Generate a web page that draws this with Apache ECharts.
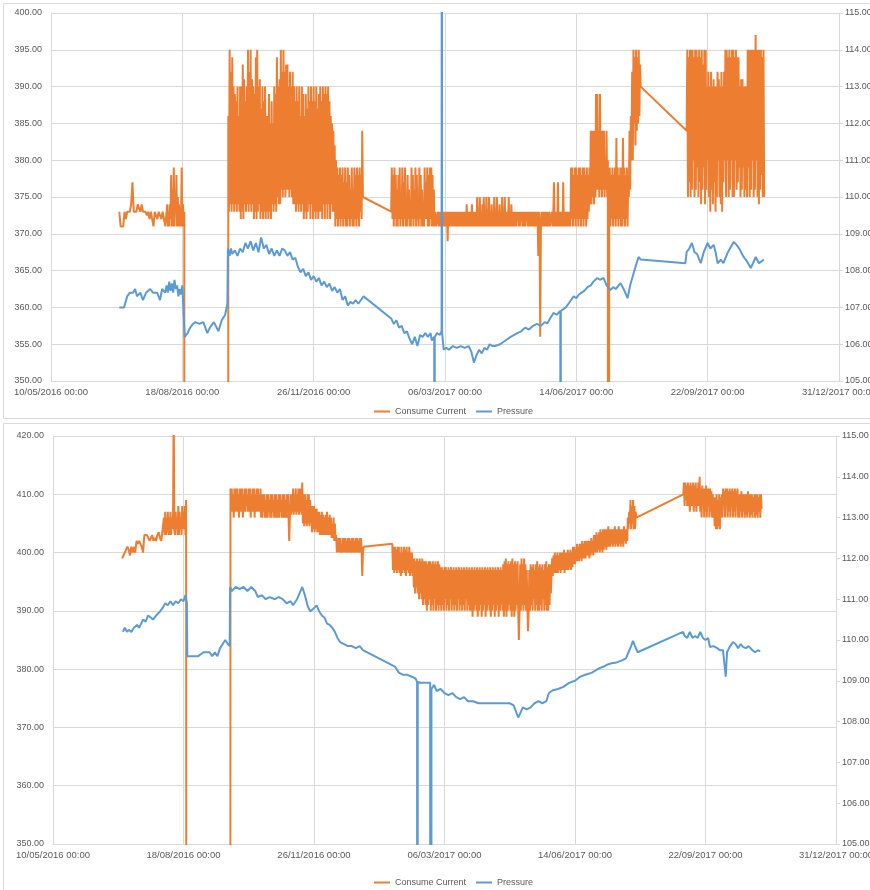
<!DOCTYPE html>
<html>
<head>
<meta charset="utf-8">
<script src="https://cdn.jsdelivr.net/npm/echarts@6/dist/echarts.min.js"></script>
<style>html,body{margin:0;padding:0;background:#fff}#c{width:870px;height:890px}</style>
</head>
<body>
<div id="c"></div>
<script>
// Days counted from 10/05/2016 00:00. Segments: [startDay, stepDays, values]
const xTickDays = [0, 100, 200, 300, 400, 500, 600];
const seriesNames = ['Consume Current', 'Pressure'];

// ---------- TOP CHART ----------
const topCurrent = [
  [52, 1, [373,371,371,371,373,372,373,373,373,374,377,373,373,373,374,374,373,374,373,373,373,372.5,373,372,373,372,371,373,373,372,373,373,372,373,372,371]],
  [88, 0.5, [371,374,371,373,371,374,372,378,371,376,371,379,371,374,373,378,371,375,371,374,371,373,371,379,371,374,371,373]],
  [101.3, 33.4, [0, 0]],
  [135, 0.5, [386,373,395,374,392,373,394,374,390,373,
              389,374,388,373,390,374,386,373,390,372,
              390,373,393,372,391,374,388,373,390,374,
              395,373,392,374,395,373,391,374,390,372,
              389,373,394,372,395,373,390,374,391,372,
              387,373,390,372,388,373,390,372,386,373,
              386,372,389,373,385,372,388,374,385,373,
              390,374,389,373,394,375,390,374,391,374,
              395,376,392,375,395,376,392,375,393,376,
              393,376,390,375,392,376,390,375,392,374,
              390,374,388,373,390,374,388,373,390,374,
              386,373,390,374,389,372,386,373,389,372,
              387,373,390,374,388,372,390,374,388,372,
              390,373,388,372,390,373,387,372,389,373,
              390,373,388,372,390,374,389,372,390,374,
              389,372,390,374,388,372,386,374,385,373,
              384,373,382,371,380,372,379,371,378,372,
              379,371,378,372,379,371,377,372,379,371,
              377,371,379,372,378,371,376,372,379,371,
              376,371,379,372,378,371,379,372,378,371,
              379,373,378,372,384,375,375]],
  [259, 0.5, [373,379,372,378,371,379,372,378,371,376,
              371,378,372,379,371,375,372,379,371,377,
              372,379,371,374,371,378,372,376,371,373,
              371,379,372,378,371,376,372,379,371,378,
              372,373,371,379,372,378,371,376,371,373,
              371,379,372,377,372,379,371,378,371,379,
              372,379,371,378,371,376,371,373,371]],
  [294, 0.5, [371,373,371,373,371,373,371,373,371,373,
              371,373,371,373,371,373,369,373,371,373,
              371,373,371,373,371,373,371,373,371,373,
              371,373,371,373,371,373,371,373,371,373,
              371,373,371,373,371,374,371,373,371,373,
              371,373,371,374,371,373,371,373,371,373,
              371,375,371,373,371,375,371,373,371,374,
              371,375,371,373,371,375,371,373,371,375,
              371,373,371,374,371,373,371,375,371,373,
              371,375,371,373,371,374,371,373,371,375,
              371,373,371,375,371,373,371,373,371,375,
              371,373,371,374,371,373,371,373,371,373,
              371,373,372,373,371,373,371,373,372,373,
              371,373,371,373,371,373,372,373,371,373,
              371,373,371,373,371,373,371,373,371,373,
              371,373,371,373,367,373,371,356,371,373,
              371,373,371,373,371,373,371,373,371,373,
              371,373,371]],
  [381, 0.5, [371,373,371,373,377,371,373,371,373,371,
              377,371,373,371,373,371,373,371,377,371,
              373,371,373,371,373,371,373,371,373,371,
              379,372,379,371,378,372,379,371,379,372,
              378,371,379,372,379,371,378,372,379,371,
              379,372,378,371,379,372,378,373,379,374,
              384,374,384,375,384,374,384,375,389,376,
              389,376,384,375,389,376,384,375,384,376,
              384,375,380,376,384,375,380]],
  [424.3, 0.4, [0, 0]],
  [425, 0.5, [372,379,371,378,372,379,371,378,372,379,
              371,383,372,379,371,378,372,379,371,379,
              371,383,372,379,371,378,372,379,371,378,
              375,384,376,386,380,392,380,395,385,394,
              382,395,384,394,385,395,386,393,390]],
  [484, 0.5, [384,395,375,394,377,395,375,395,376,395,
              380,394,375,395,376,395,379,394,375,395,
              377,394,374,395,376,393,379,395,374,395,
              376,390,380,392,375,390,373,392,376,390,
              374,391,377,390,373,390,375,392,380,391,
              375,390,374,392,373,390,377,392,380,395,
              375,395,380,394,375,395,376,394,380,395,
              375,395,375,394,380,395,376,394,377,394,
              379,390,375,391,376,391,379,390,375,390,
              376,390,375,395,379,395,375,395,376,395,
              380,395,375,395,376,397,380,395,375,395,
              374,395,376,395,378,394,375,395,375]]
];
const topPressure = [
  [52,107.0],[55.6,107.0],[58,107.3],[60,107.4],[62.5,107.4],[64,107.5],[65.5,107.3],[68,107.4],[70,107.2],[72.4,107.4],[75.5,107.5],[77.7,107.4],[80.8,107.4],[83,107.2],[84.6,107.5],[87,107.4],
  [88,107.6],[89,107.4],[90,107.7],[91,107.45],[92,107.65],[93,107.4],[94,107.75],[95,107.5],[96,107.6],[97,107.3],[98,107.5],[99,107.35],[100,107.6],[101.3,107.6],
  [101.8,106.2],[104,106.3],[106,106.45],[108,106.55],[110,106.6],[113,106.55],[116,106.6],[119,106.3],[121,106.45],[124,106.6],[127.5,106.35],[130,106.65],[132.6,106.8],[134.3,107.1],
  [134.7,108.6],[136,108.4],[137,108.6],[138,108.45],[140,108.55],[142,108.4],[144,108.6],[146,108.5],[148,108.75],[150,108.6],[152,108.8],[154,108.55],[156,108.75],[158,108.5],[160,108.9],[162,108.6],[164,108.7],[166,108.45],[168,108.6],[170,108.4],[172,108.55],[174,108.4],[176,108.6],
  [178,108.55],[180,108.4],[182,108.5],[184,108.3],[186,108.35],[188,108.1],[190,107.95],[192,108.05],[194,107.85],[196,107.95],[198,107.75],[200,107.85],[202,107.7],[204,107.8],[206,107.6],[208,107.7],[210,107.55],[212,107.65],[214,107.45],[216,107.55],[218,107.4],[220,107.5],[222,107.2],[224,107.3],[226,107.05],[228,107.15],[230,107.1],[232,107.2],[234,107.1],[236,107.2],[238,107.3],
  [259,106.7],[261,106.55],[263,106.65],[265,106.45],[267,106.5],[269,106.3],[271,106.35],[273,106.15],[275,106.0],[277,106.2],[279,105.95],[281,106.25],[283,106.2],[285,106.3],[287,106.2],[289,106.3],[290,106.1],[291.8,106.2],[292,0],[292.2,106.2],
  [294,106.3],[296,106.25],[297.4,106.35],[297.6,130],[297.8,106.3],[299,105.85],[301,105.9],[303,105.85],[306,105.95],[309,105.9],[312,105.95],[315,105.9],[318,105.95],[320,105.8],[322,105.5],[324,105.7],[326,105.85],[328,105.75],[330,105.9],[332,105.85],[334,106.0],[336,105.95],[338,105.95],
  [342,106.0],[346,106.1],[350,106.2],[355,106.3],[358,106.35],[361,106.45],[364,106.4],[367,106.5],[370,106.55],[373,106.5],[376,106.6],[378,106.57],[380,106.7],[382.6,106.85],[385,106.8],[387.8,106.9],[388,0],[388.2,106.9],
  [390,106.95],[392,107.0],[394,107.1],[396,107.2],[398,107.3],[400,107.25],[402,107.35],[404,107.4],[406,107.45],[408.5,107.55],[411,107.6],[413,107.7],[416,107.8],[418,107.75],[420.7,107.8],[423,107.6],[426,107.47],[428,107.55],[430,107.5],[433.7,107.66],[436,107.5],[439,107.25],[441,107.6],[443.6,107.93],[445,108.1],[447.4,108.37],[449,108.3],
  [483,108.2],[484,108.5],[486,108.6],[488,108.75],[490,108.5],[492,108.45],[494.7,108.2],[497,108.5],[500,108.75],[502,108.6],[504.6,108.7],[506,108.5],[507.6,108.2],[510,108.3],[512,108.2],[515,108.47],[517,108.6],[519.8,108.78],[522,108.7],[524,108.6],[527.4,108.37],[530,108.25],[532.8,108.07],[534.5,108.2],[536.6,108.37],[539,108.2],[541,108.25],[542.7,108.3]
];

// ---------- BOTTOM CHART ----------
const bottomCurrent = [
  [53, 1, [399,399.5,400,400,401,400.5,399.5,401,400,401,400,402,401.5,402,402,401,400,403,403,403,403,402,402.5,403,402,402.5,402,403,403.5,402.5,402,404]],
  [85, 0.5, [406,403,407,403,406,403.5,407,403,406,403,
             407,403,406,404,407,425,404,403,407,404,
             406,403,408,403,407,404,406,403,408,404,
             407,404,408,403,409]],
  [102.6, 33, [0, 0]],
  [136, 0.5, [411,407,411,407,410,406,411,407,411,407,
              411,407,410,406,411,407,411,407,411,406,
              410,407,411,407,411,408,410,407,411,407,
              411,406,410,407,411,407,411,406,410,407,
              411,407,411,407,410,407,411,406,410,406,
              410,407,410,406,409,406,410,406,410,407,
              409,406,410,406,410,407,409,406,410,406,
              410,406,409,406,410,406,410,407,409,406,
              410,406,410,406,409,406,410,406,410,406,
              402,406,410,406.5,410,407,411,406.5,410,407,
              411,406.5,410,407,411,406.5,411,407,411,406.5,
              412,405,410,404.5,410,405,409,404.5,410,405,
              410,404.5,409,405,408,403.5,408,404,408,403.5,
              407.5,404,407.5,403.5,407,403.5,407,403,406.5,403,
              407,403,406.5,403,406,403,406.5,403,407,403,
              406,403,406.5,403,406,402.5,405,402.5,406,402,
              405,402,403,400,402.5,400,402.5,400,402.5,400,
              401.5,400,402.5,400,402.5,400,402.5,400,402,400,
              402.5,400,402.5,400,402,400,402.5,400,402.5,400,
              402,400,402.5,400,402.5,400,402,400,402.5,400,
              402.5,400,396,400,401]],
  [260, 0.5, [401.5,397,401,396.5,401,397,400.5,396.5,401,397,
              401,396.5,400,396,401,396.5,400,397,401,396.5,
              400.5,396,401,397,400,396.5,401,396,400,396.5,
              400,396,399,394,399,393,398.5,394,399,393,
              398.5,392,399,393,398.5,392,399,391,398.5,392,
              398.5,391,398.5,390,398,391,398.5,392,398.5,390,
              398,391,398.5,390,398,392,398.5,390,398,391,
              398.5,390,398,391,397.5,390,397.5,391,397,390,
              397.5,392,397.5,390,397,391,397.5,390,397,392,
              397.5,390,397,391,397.5,390,397,391,397.5,390,
              397,392,397.5,390,397,391,397.5,390,397,391,
              397.5,390,397,392,397.5,390,397,391,397.5,390,
              397,390,397.5,389,397,390,397.5,391,397,390,
              397.5,389,397,390,397.5,391,397,389,397.5,390,
              397,391,397.5,389,397,390,397.5,391,397,390,
              397.5,389,397,390,397.5,391,397,389,397.5,390,
              397,391,397.5,389,397,390,397.5,391,397,390,
              398,389,398.5,390,399,389,398,390,398.5,391,
              398,390,398.5,389,399,390,398,389,398.5,390,
              398,391,398.5,390,385,390,398,390,399,391,
              398,390,399,391,398,390,397,391,386.5,390,
              397,390,398,391,397.5,390,398,392,397,390,
              398,391,398.5,390,397.5,390,398,391,397.5,390,
              398,392,397,390,398,391,398.5,390,397.5,390,
              398,391,398,393,396,399,396,399.5,396.5,400,
              396.5,399.5,396.5,400,396.5,399.5,397,400,396.5,400,
              397,400,397,400.5,396.5,400,397,400,397,400.5,
              397,400,397.5,400.5,397,400,397.5,401,398,401,
              398,400.5,398.5,401.5,398.5,401,398.5,401.5,399,401.5,
              398.5,402,399,401.5,399,402,399,402,399.5,402,
              399.5,402,399,402,399.5,402.5,400,402,399.5,403,
              400,403,400,403.5,400,403,400.5,403.5,400,404,
              400.5,403.5,400,404,400.5,404,401,404,400.5,404,
              401,404.5,401,404,401,404,401.5,404,401,404,
              401.5,404.5,401,404,401.5,404,401,404.5,401.5,404,
              401,404,401.5,404,401,404.5,402,404,401.5,404,
              402,406,404,407,405,409,404,408,405,409,
              404,408,404,407,406]],
  [483, 0.5, [410,412,408,412,409,411.5,408,412,408,411.5,
              407,412,408,411.5,408,412,407,411.5,408,412,
              407,411,408,412,408,413,407,411,406,411.5,
              408,411,406,411,407,411.5,406,411,408,411,
              406,411,407,410.5,406,410,406,409.5,404.5,409.5,
              404,410,404,409,404.5,410,404,409.5,406,410,
              406,411,408,410.5,406,411,408,411,406,410.5,
              407,411,406,410.5,408,411,406,410.5,407,411,
              406,410.5,408,411,406,410,406,410,407,410.5,
              406,410,407,410,406,410,406.5,410,406,410.5,
              407,410,406,410,406.5,410,406,409.5,407,410,
              406,410,406.5,410,406,409.5,407,410,406,410,
              407.5]]
];
const bottomPressure = [
  [53.6,110.2],[55,110.3],[56.7,110.2],[58,110.25],[60,110.2],[62,110.3],[64.4,110.37],[66,110.3],[69,110.5],[71,110.45],[72.8,110.6],[75,110.55],[76.6,110.5],[79,110.6],[82,110.7],[84.3,110.8],
  [86,110.9],[88,110.85],[90,110.95],[92,110.85],[94,110.95],[96,110.9],[98,111.0],[100,110.95],[101.5,111.1],[102.6,110.9],
  [102.9,109.6],[105,109.6],[111,109.6],[115.3,109.7],[120,109.7],[122,109.6],[124,109.7],[126,109.6],[128,109.8],[132,110.0],[134,109.9],[135.4,109.85],
  [135.7,111.3],[137,111.2],[140,111.3],[143,111.25],[146,111.3],[149,111.2],[152,111.3],[155,111.2],[157,111.05],[160,111.1],[163,111.0],[166,111.05],[170,111.0],[173,111.05],[176,111.0],[179,110.9],[182,110.95],[184,110.85],[187,111.0],[189,111.15],[191,111.3],[193,111.1],[195,110.85],[197,110.7],[199,110.75],[202,110.85],[204,110.7],[206,110.6],[208,110.55],[210,110.4],[212,110.37],[214,110.3],[216,110.2],[218,110.05],[220,109.95],[223,109.9],[226,109.85],[229,109.85],[232,109.8],[235,109.85],[237.5,109.75],
  [262,109.35],[265,109.2],[268,109.15],[271,109.15],[275,109.1],[278,109.05],[279,108.97],[279.2,0],[279.5,108.97],[282,108.95],[285,108.95],[289,108.95],[289.6,108.95],[289.8,0],[290,108.8],
  [292,108.9],[294,108.75],[297,108.8],[300,108.7],[303,108.65],[306,108.7],[309,108.6],[312,108.55],[315,108.6],[318,108.5],[322,108.5],[326,108.45],[330,108.45],[335,108.45],[340,108.45],[345,108.45],[350,108.45],[353,108.4],[356.5,108.1],[358,108.2],[360,108.35],[363,108.3],[366,108.35],[369,108.45],[372,108.5],[375,108.45],[378,108.5],[380,108.7],[383,108.77],[387,108.8],[391,108.85],[395.5,108.95],[400,109.0],[404,109.1],[408,109.15],[413,109.2],[418,109.3],[422,109.35],[425,109.4],[428,109.43],[432,109.45],[436,109.5],[439,109.55],[441,109.7],[443,109.85],[444.4,109.98],[446,109.85],[448,109.7],
  [482.8,110.2],[484,110.1],[486,110.05],[488,110.2],[490,110.05],[492,110.1],[494,110.05],[496,110.2],[498,110.05],[500,110.0],[502,110.05],[503.4,109.83],[506,109.85],[509,109.8],[511,109.75],[513.4,109.75],[515.5,109.1],[516.5,109.7],[518,109.8],[521,109.95],[523,109.9],[525,109.8],[527,109.9],[528.7,109.83],[531,109.8],[533,109.85],[536,109.75],[538,109.7],[540,109.75],[542,109.72]
];

function expand(segs) {
  const out = [];
  segs.forEach(s => { s[2].forEach((v, i) => out.push([s[0] + i * s[1], v])); });
  return out;
}

const BASE = Date.UTC(2016, 4, 10);
function pad(n) { return (n < 10 ? '0' : '') + n; }
function dayLabel(v) {
  const d = new Date(BASE + v * 86400000);
  return pad(d.getUTCDate()) + '/' + pad(d.getUTCMonth() + 1) + '/' + d.getUTCFullYear() + ' 00:00';
}

const FONT = 'Liberation Sans, Arial, sans-serif';
const TXT = '#595959';
const GRID_C = '#d9d9d9';
const ORANGE = '#ED7D31';
const BLUE = '#5B9BD5';

function xAxisFor(gi) {
  return {
    type: 'value', gridIndex: gi, min: xTickDays[0], max: xTickDays[xTickDays.length - 1], interval: 100,
    axisLine: { show: true, lineStyle: { color: GRID_C } },
    axisTick: { show: false },
    splitLine: { show: true, lineStyle: { color: GRID_C } },
    axisLabel: { formatter: dayLabel, color: TXT, fontSize: 9.5, fontFamily: FONT, margin: 6, showMinLabel: true, showMaxLabel: true, hideOverlap: false }
  };
}
function yAxisFor(gi, pos, min, max, interval, split) {
  return {
    type: 'value', gridIndex: gi, position: pos, min: min, max: max, interval: interval,
    axisLine: { show: true, lineStyle: { color: GRID_C } },
    axisTick: { show: pos === 'right', length: 4, lineStyle: { color: GRID_C } },
    splitLine: { show: split, lineStyle: { color: GRID_C } },
    axisLabel: { formatter: v => v.toFixed(2), color: TXT, fontSize: 9, fontFamily: FONT, margin: pos === 'right' ? 6 : 9 }
  };
}
function lineSeries(name, xi, yi, data, color, width) {
  return { name: name, type: 'line', xAxisIndex: xi, yAxisIndex: yi, data: data, symbol: 'none', showSymbol: false,
           clip: true, sampling: null, lineStyle: { color: color, width: width }, itemStyle: { color: color }, animation: false };
}

const chart = echarts.init(document.getElementById('c'), null, { renderer: 'canvas' });
chart.setOption({
  animation: false,
  backgroundColor: '#ffffff',
  graphic: [
    { type: 'rect', shape: { x: 3.5, y: 3.5, width: 880, height: 415 }, style: { fill: 'none', stroke: GRID_C, lineWidth: 1 }, silent: true },
    { type: 'rect', shape: { x: 3.5, y: 423.5, width: 880, height: 470 }, style: { fill: 'none', stroke: GRID_C, lineWidth: 1 }, silent: true }
  ],
  grid: [
    { left: 51, top: 13, width: 788, height: 368, outerBoundsMode: 'none', containLabel: false },
    { left: 53, top: 436, width: 783, height: 408, outerBoundsMode: 'none', containLabel: false }
  ],
  legend: [
    { data: seriesNames, left: 369, top: 402, itemWidth: 16, itemHeight: 2, itemGap: 10, icon: 'rect',
      textStyle: { color: TXT, fontSize: 9, fontFamily: FONT } },
    { data: seriesNames, left: 369, top: 873, itemWidth: 16, itemHeight: 2, itemGap: 10, icon: 'rect',
      textStyle: { color: TXT, fontSize: 9, fontFamily: FONT } }
  ],
  xAxis: [xAxisFor(0), xAxisFor(1)],
  yAxis: [
    yAxisFor(0, 'left', 350, 400, 5, true),
    yAxisFor(0, 'right', 105, 115, 1, false),
    yAxisFor(1, 'left', 350, 420, 10, true),
    yAxisFor(1, 'right', 105, 115, 1, false)
  ],
  series: [
    lineSeries(seriesNames[0], 0, 0, expand(topCurrent), ORANGE, 2),
    lineSeries(seriesNames[1], 0, 1, topPressure, BLUE, 2),
    lineSeries(seriesNames[0], 1, 2, expand(bottomCurrent), ORANGE, 2),
    lineSeries(seriesNames[1], 1, 3, bottomPressure, BLUE, 2)
  ]
});
</script>
</body>
</html>
